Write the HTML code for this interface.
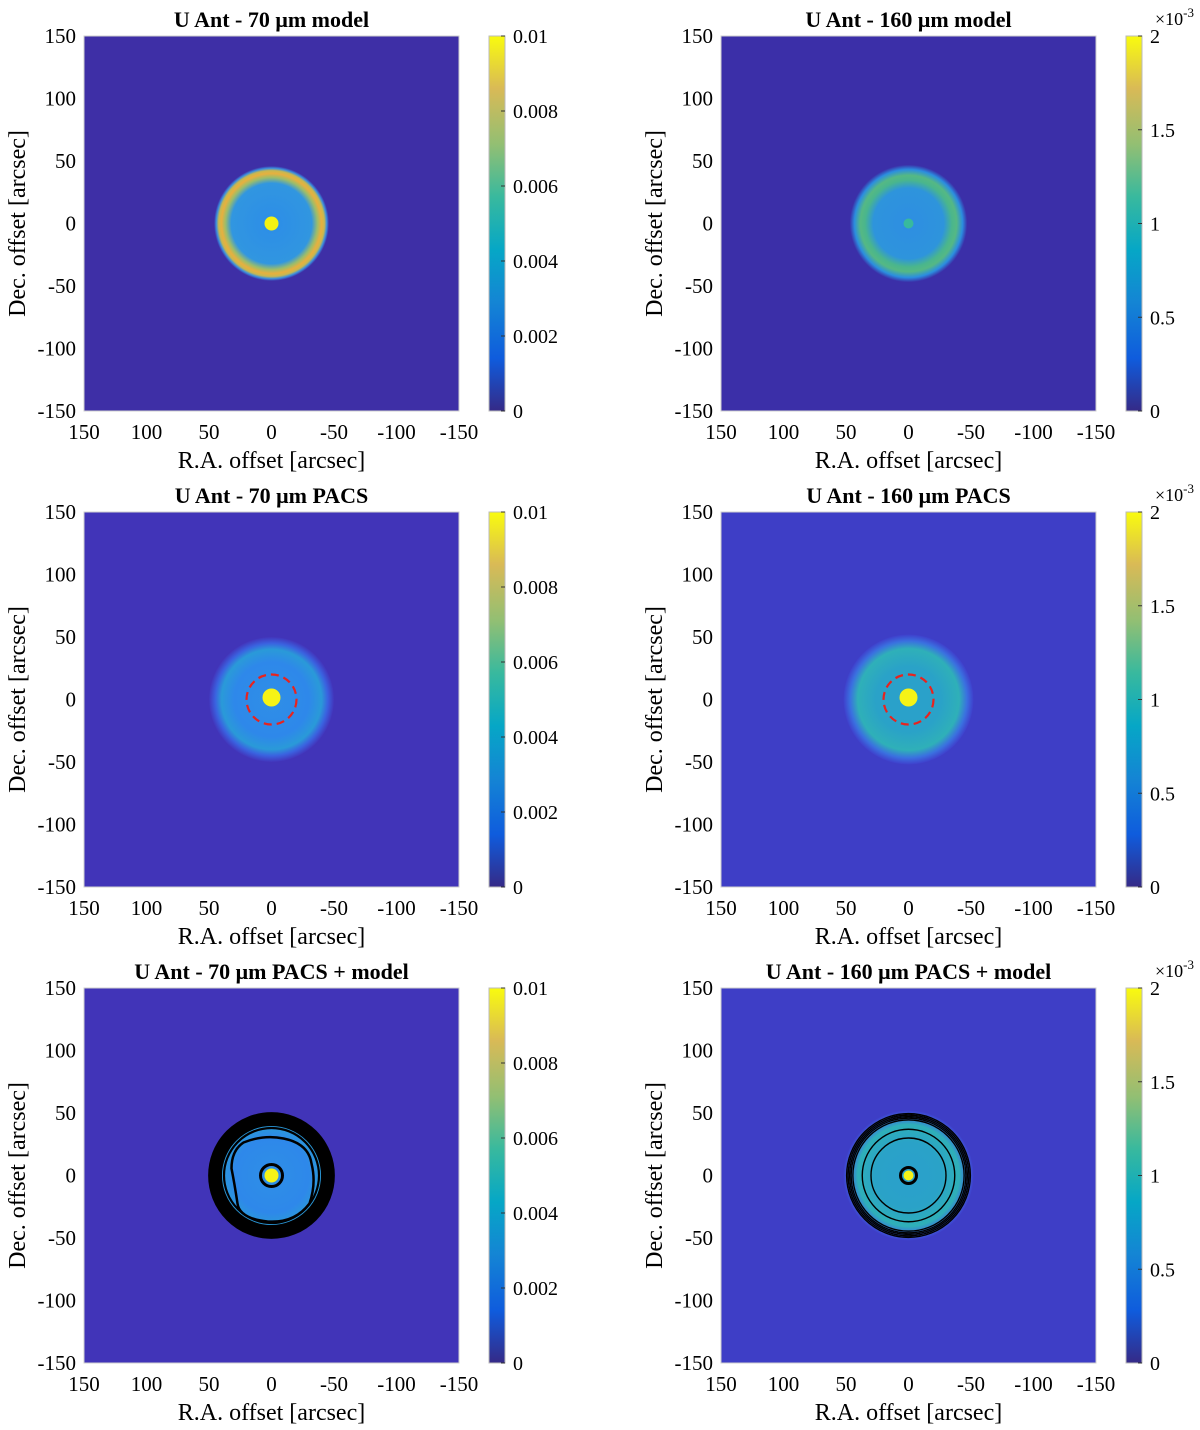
<!DOCTYPE html>
<html><head><meta charset="utf-8"><style>
html,body{margin:0;padding:0;background:#fff;}
svg{display:block;font-family:"Liberation Serif",serif;}
</style></head><body>
<svg id="fig" width="1200" height="1430" viewBox="0 0 1200 1430" xmlns="http://www.w3.org/2000/svg">
<defs>
<radialGradient id="g1">
<stop offset="0" stop-color="#2c8de8"/><stop offset="0.7" stop-color="#3196e0"/><stop offset="0.8" stop-color="#9cbd6a"/><stop offset="0.87" stop-color="#e8b03e"/><stop offset="0.92" stop-color="#c8b850"/><stop offset="0.96" stop-color="#3a90e0"/><stop offset="1" stop-color="#3e2fa6"/></radialGradient>
<radialGradient id="g2">
<stop offset="0" stop-color="#2e8ee2"/><stop offset="0.6" stop-color="#2e94dc"/><stop offset="0.74" stop-color="#4ab68c"/><stop offset="0.82" stop-color="#55b884"/><stop offset="0.92" stop-color="#2b8ee0"/><stop offset="1" stop-color="#3b2fa8"/></radialGradient>
<radialGradient id="g3">
<stop offset="0" stop-color="#2f8fe6"/><stop offset="0.6" stop-color="#2e88ea"/><stop offset="0.8" stop-color="#2a9ad8"/><stop offset="0.9" stop-color="#3a62e0"/><stop offset="1" stop-color="#4236bc"/></radialGradient>
<radialGradient id="g4">
<stop offset="0" stop-color="#2aa0cc"/><stop offset="0.5" stop-color="#2aa2c8"/><stop offset="0.78" stop-color="#2fb0b8"/><stop offset="0.9" stop-color="#3a70e0"/><stop offset="1" stop-color="#3f40cc"/></radialGradient>
<linearGradient id="cb" x1="0" y1="1" x2="0" y2="0">
<stop offset="0" stop-color="#352a87"/><stop offset="0.14" stop-color="#0f5cdd"/><stop offset="0.29" stop-color="#1485d4"/><stop offset="0.43" stop-color="#06a7c6"/><stop offset="0.57" stop-color="#38b99e"/><stop offset="0.71" stop-color="#92bf73"/><stop offset="0.86" stop-color="#d9ba56"/><stop offset="1" stop-color="#f9fb0e"/></linearGradient>
</defs>
<g id="root"></g>
</svg>
<script>
const xTicks=[150,100,50,0,-50,-100,-150];
const yTicks=[150,100,50,0,-50,-100,-150];
const cbLeftTicks=[0,0.002,0.004,0.006,0.008,0.01];
const cbLeftLabels=["0","0.002","0.004","0.006","0.008","0.01"];
const cbRightTicks=[0,0.5,1,1.5,2];
const cbRightLabels=["0","0.5","1","1.5","2"];
const titles=["U Ant - 70 μm model","U Ant - 160 μm model","U Ant - 70 μm PACS","U Ant - 160 μm PACS","U Ant - 70 μm PACS + model","U Ant - 160 μm PACS + model"];
const diskRadius=[46,47,50,52,50,52];
const redCircle=[0,0,20,20,0,0];
const contours5=[43,40.5,38];
const contours6=[49.5,48.3,47.1,45.9,44.5,37,30];
const NS="http://www.w3.org/2000/svg";
const root=document.getElementById('root');
function mk(tag,at,parent,txt){const e=document.createElementNS(NS,tag);for(const k in at)e.setAttribute(k,at[k]);if(txt!==undefined)e.textContent=txt;(parent||root).appendChild(e);return e;}
const W=375,H=375;
const bgs=["#3e2fa6","#3b2fa8","#4134b8","#3e3ec6","#4134b8","#3e3ec6"];
const grads=["g1","g2","g3","g4","g3","g4"];
for(let p=0;p<6;p++){
  const col=p%2,row=Math.floor(p/2);
  const x0=col?721:84,y0=36+row*476;
  const sx=v=>x0+(150-v)/300*W;
  const sy=v=>y0+(150-v)/300*H;
  const k=W/300;
  const g=mk('g',{}); 
  const t=mk('text',{x:x0+W/2,y:y0-9,'text-anchor':'middle','font-size':22,'font-weight':'bold'},g,titles[p]);
  
  const img=mk('g',{},g);
  mk('rect',{x:x0,y:y0,width:W,height:H,fill:bgs[p]},img);
  const cx=sx(0),cy=sy(0);
  mk('circle',{cx,cy,r:diskRadius[p]*k,fill:'url(#'+grads[p]+')'},img);
  if(p==1){mk('circle',{cx,cy,r:5,fill:'#38b99e'},img);}
  else if(p==0){mk('circle',{cx,cy,r:7,fill:'#f4f212'},img);}
  else if(p<4){mk('circle',{cx,cy:cy-2,r:9,fill:'#f6f316'},img);}
  if(redCircle[p]){const c=mk('circle',{cx,cy,r:redCircle[p]*k,fill:'none',stroke:'#e8231e','stroke-width':2.2,'stroke-dasharray':'8 5'},img);}
  if(p==4){
    mk('circle',{cx,cy,r:45.5*k,fill:'none',stroke:'#000','stroke-width':13},img);
    contours5.forEach(r=>mk('circle',{cx,cy,r:r*k,fill:'none',stroke:'#000','stroke-width':2.2},img));
    mk('path',{d:`M${cx-28},${cy-33} q20,-8 40,-4 q25,5 28,25 q5,20 -2,40 q-15,20 -42,18 q-28,-3 -30,-18 q-3,-20 -6,-35 q0,-18 12,-26z`,fill:'none',stroke:'#000','stroke-width':2.5},img);
    mk('circle',{cx,cy,r:11,fill:'none',stroke:'#000','stroke-width':3},img);
    mk('circle',{cx,cy,r:7,fill:'#f6f316'},img);
  }
  if(p==5){
    contours6.forEach(r=>mk('circle',{cx,cy,r:r*k,fill:'none',stroke:'#000','stroke-width':1.4},img));
    mk('circle',{cx,cy,r:5,fill:'#f6f316'},img);
    mk('circle',{cx,cy,r:8,fill:'none',stroke:'#000','stroke-width':3},img);
  }
  mk('rect',{x:x0,y:y0,width:W,height:H,fill:'none',stroke:'#cfcfcf','stroke-width':1},g);
  xTicks.forEach((v,i)=>{const tx=mk('text',{x:sx(v),y:y0+H+28,'text-anchor':'middle','font-size':21},g,String(v));});
  yTicks.forEach(v=>{const ty=mk('text',{x:x0-8,y:sy(v)+7,'text-anchor':'end','font-size':21},g,String(v));});
  const xl=mk('text',{x:x0+W/2,y:y0+H+57,'text-anchor':'middle','font-size':24},g,'R.A. offset [arcsec]');
  
  const yl=mk('text',{x:0,y:0,'text-anchor':'middle','font-size':24,transform:`translate(${x0-59},${y0+H/2}) rotate(-90)`},g,'Dec. offset [arcsec]');
  
  const cbx=col?1126:489;
  const cb=mk('g',{},g);
  mk('rect',{x:cbx,y:y0,width:16,height:H,fill:'url(#cb)',stroke:'#bbb','stroke-width':1},cb);
  const ticks=col?cbRightTicks:cbLeftTicks,labs=col?cbRightLabels:cbLeftLabels,max=col?2:0.01;
  ticks.forEach((v,i)=>{const yy=y0+H-v/max*H;
    mk('line',{x1:cbx+12,x2:cbx+16,y1:yy,y2:yy,stroke:'#333'},cb);
    const tl=mk('text',{x:cbx+24,y:yy+7,'font-size':20},cb,labs[i]);});
  if(col){const e=mk('text',{x:cbx+29,y:y0-11,'font-size':18},cb,'×10');mk('tspan',{dy:-8,'font-size':13},e,'-3');}
}
</script>
</body></html>
